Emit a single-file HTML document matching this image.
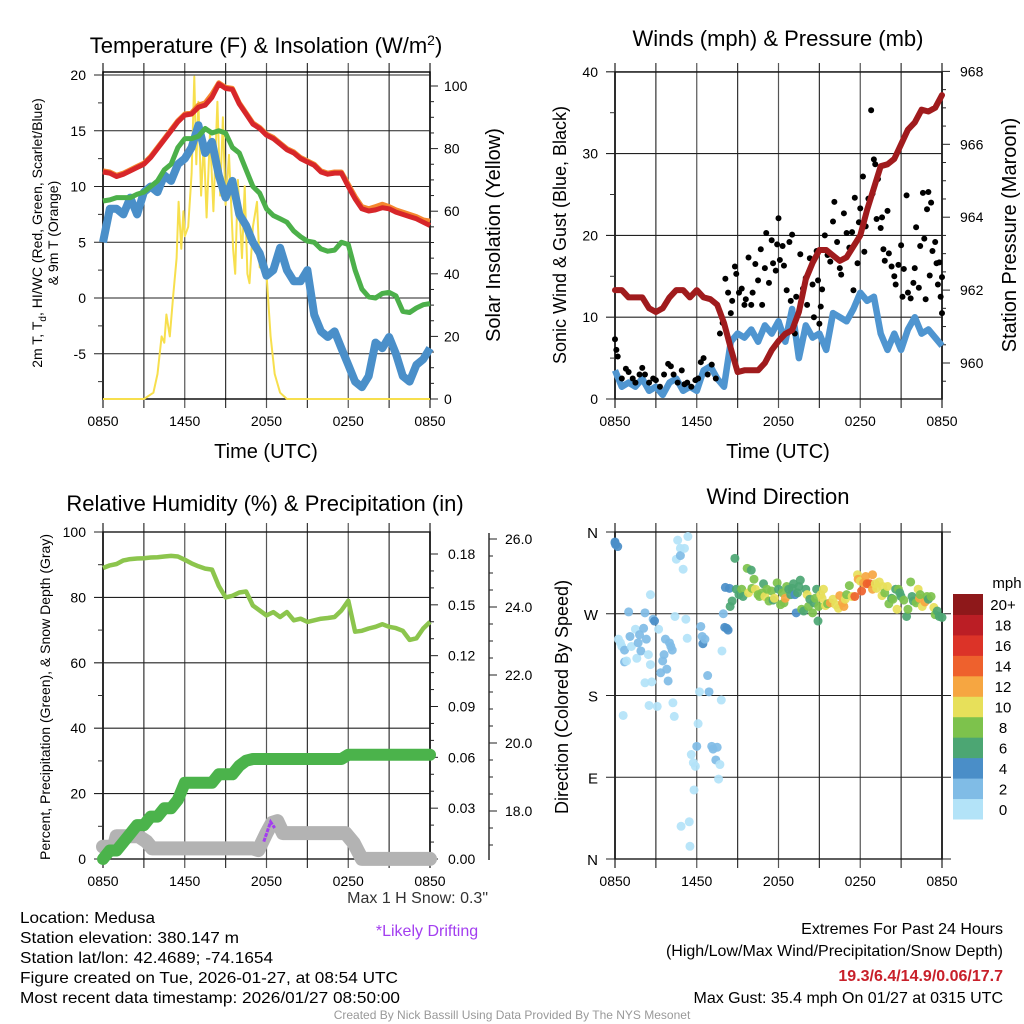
<!DOCTYPE html>
<html><head><meta charset="utf-8"><style>
html,body{margin:0;padding:0;background:#fff;}
svg{display:block;font-family:"Liberation Sans",sans-serif;}
</style></head><body>
<svg id="fig" width="1024" height="1024" viewBox="0 0 1024 1024" xmlns="http://www.w3.org/2000/svg">
<rect width="1024" height="1024" fill="#fff"/>
<g id="p1"></g>
<g id="p2"></g>
<g id="p3"></g>
<g id="p4"></g>
<g id="foot">
<text x="20" y="923" font-size="16" textLength="135" lengthAdjust="spacingAndGlyphs">Location: Medusa</text>
<text x="20" y="943" font-size="16" textLength="219" lengthAdjust="spacingAndGlyphs">Station elevation: 380.147 m</text>
<text x="20" y="963" font-size="16" textLength="253" lengthAdjust="spacingAndGlyphs">Station lat/lon: 42.4689; -74.1654</text>
<text x="20" y="983" font-size="16" textLength="378" lengthAdjust="spacingAndGlyphs">Figure created on Tue, 2026-01-27, at 08:54 UTC</text>
<text x="20" y="1003" font-size="16" textLength="380" lengthAdjust="spacingAndGlyphs">Most recent data timestamp: 2026/01/27 08:50:00</text>
<text x="488" y="903" font-size="16" text-anchor="end" fill="#333">Max 1 H Snow: 0.3"</text>
<text x="427" y="936" font-size="16" text-anchor="middle" fill="#a33ef0">*Likely Drifting</text>
<text x="1003" y="934" font-size="16" text-anchor="end">Extremes For Past 24 Hours</text>
<text x="1003" y="956" font-size="16" text-anchor="end">(High/Low/Max Wind/Precipitation/Snow Depth)</text>
<text x="1003" y="981" font-size="16" font-weight="bold" text-anchor="end" fill="#c8202a">19.3/6.4/14.9/0.06/17.7</text>
<text x="1003" y="1003" font-size="16" text-anchor="end">Max Gust: 35.4 mph On 01/27 at 0315 UTC</text>
<text x="512" y="1019" font-size="12" text-anchor="middle" fill="#999">Created By Nick Bassill Using Data Provided By The NYS Mesonet</text>
</g>
</svg>
<script>
// ---- shared categories ----
const xTickLabels = ["0850","1450","2050","0250","0850"];
const halfHours = [0,0.5,1,1.5,2,2.5,3,3.5,4,4.5,5,5.5,6,6.5,7,7.5,8,8.5,9,9.5,10,10.5,11,11.5,12,12.5,13,13.5,14,14.5,15,15.5,16,16.5,17,17.5,18,18.5,19,19.5,20,20.5,21,21.5,22,22.5,23,23.5,24];
// ---- panel 1 data ----
const tempRed = [11.3,11.2,10.9,11.1,11.4,11.7,12.0,12.6,13.4,14.2,15.0,15.8,16.4,16.5,17.1,17.3,18.0,19.2,18.8,18.7,17.4,16.5,15.6,15.2,14.6,14.3,13.8,13.3,13.0,12.5,12.2,11.9,11.3,11.1,11.2,11.2,10.0,8.9,8.0,7.8,7.9,8.1,8.0,7.7,7.5,7.3,7.1,6.8,6.5];
const temp9m = [11.4,11.3,11.0,11.2,11.5,11.8,12.1,12.7,13.5,14.3,15.1,15.9,16.5,16.6,17.3,17.5,18.3,19.3,18.9,18.8,17.5,16.6,15.7,15.3,14.7,14.4,13.9,13.4,13.1,12.6,12.3,12.0,11.4,11.2,11.3,11.3,10.2,9.1,8.2,8.0,8.2,8.4,8.2,7.9,7.7,7.5,7.3,7.0,6.9];
const tempGreen = [8.7,8.8,9.0,9.0,9.0,9.3,9.5,10.0,10.5,11.5,12.0,13.5,14.3,14.3,14.5,15.2,14.8,15.0,14.8,13.5,13.0,11.5,10.0,9.4,8.0,7.4,7.1,6.8,6.0,5.5,5.1,5.0,4.4,4.2,4.3,5.0,4.8,2.5,0.8,0.1,0.0,0.4,0.5,0.2,-1.2,-1.3,-0.9,-0.6,-0.5];
const dewBlue = [5.0,8.0,8.0,7.5,9.0,7.5,9.5,10.0,9.5,11.0,10.5,12.0,12.5,13.5,15.5,13.0,14.0,11.0,9.0,10.5,7.5,6.5,5.0,4.0,2.0,2.5,4.5,2.5,1.5,1.5,2.5,-1.5,-3.0,-3.5,-3.0,-4.5,-6.0,-7.5,-8.0,-7.0,-4.0,-4.5,-3.5,-5.0,-7.0,-7.5,-6.0,-5.5,-4.5];
const solarHours = [0,3.0,3.7,4.0,4.3,4.5,4.65,4.9,5.15,5.4,5.55,5.75,5.9,6.0,6.25,6.5,6.7,6.85,7.0,7.2,7.4,7.6,7.85,8.1,8.4,8.6,8.8,9.0,9.25,9.55,9.7,9.9,10.2,10.4,10.6,10.75,11.0,11.3,11.5,11.75,12.0,12.3,12.6,13.0,13.5,24];
const solarVals = [0,0,2,8,20,18,27,20,33,45,63,48,60,52,55,72,103,75,95,65,82,58,85,60,95,65,90,62,78,48,40,70,45,68,40,37,55,63,42,45,40,20,8,2,0,0];
const p1LeftTicks = [-5,0,5,10,15,20];
const p1RightTicks = [0,20,40,60,80,100];
// ---- panel 2 data ----
const pressure = [962.0,962.0,961.8,961.8,961.8,961.5,961.4,961.5,961.8,962.0,962.0,961.8,962.0,961.8,961.75,961.6,961.1,960.4,959.75,959.8,959.8,959.8,960.0,960.35,960.6,960.8,960.9,961.4,962.3,962.75,963.1,963.1,962.95,962.8,962.9,963.2,963.5,964.2,964.8,965.4,965.45,965.6,966.0,966.4,966.6,966.95,966.9,967.0,967.35];
const windSpeed = [3.5,1.5,2.0,1.5,2.5,1.0,1.5,0.5,2.0,2.5,1.0,1.5,1.0,3.5,4.0,2.5,1.5,7.0,8.0,7.5,8.5,7.0,9.0,8.0,9.5,7.0,11.0,5.0,9.0,7.5,8.0,6.0,10.5,10.0,9.5,11.0,13.0,12.0,12.5,8.0,6.0,8.0,6.0,8.5,10.0,8.0,8.5,7.5,6.5];
const gustHours = [0,0.1,0.2,0.5,0.8,1,1.3,1.5,1.8,2,2.2,2.5,2.8,3,3.3,3.6,3.9,4.1,4.3,4.6,4.9,5.1,5.3,5.6,5.9,6.1,6.3,6.5,6.8,7.1,7.4,7.7,7.9,8.1,8.3,8.5,8.6,8.8,8.9,9.1,9.3,9.5,9.6,9.8,10,10.1,10.3,10.5,10.7,10.8,11,11.1,11.3,11.5,11.6,11.8,11.9,12,12.1,12.3,12.4,12.6,12.8,12.9,13,13.2,13.3,13.6,13.8,14,14.1,14.3,14.5,14.6,14.8,14.9,15,15.1,15.2,15.4,15.6,15.8,16,16.1,16.3,16.5,16.6,16.8,17,17.2,17.4,17.5,17.6,17.8,17.9,18,18.2,18.3,18.4,18.6,18.8,18.9,19,19.1,19.2,19.3,19.5,19.6,19.7,19.8,20,20.1,20.3,20.5,20.6,20.8,21,21.1,21.2,21.4,21.5,21.7,21.9,22,22.1,22.3,22.4,22.6,22.7,22.8,22.9,23,23.1,23.2,23.3,23.5,23.6,23.7,23.8,23.9,24,24];
const gustVals = [7.3,6,5.2,2.5,3.7,3.3,2.5,2,3,3.8,3,2,2.5,2.3,1.5,3,4.3,4,3,2,3.5,1.8,2,1.5,2.3,2.5,4.5,5,3,4.2,2.5,8,9.3,14.7,13,10.5,12,16.2,15.3,13,13.5,11.5,12.2,17.3,11.5,13,16.5,14.5,18.3,11.5,16,20.3,14.2,19.4,16.6,15.7,18.9,22.1,17,18.7,16.3,13.3,19.2,12,20.1,8,12.5,17.7,13.5,14.8,11.5,17.2,14,10,18.1,14.5,9.2,11.3,13.4,20,17.6,16.8,21.7,24.1,19.2,16,15.2,22.7,20.3,18.5,20.4,13.3,24.6,16.6,21.6,23.3,27.2,18,21.1,24.5,35.3,25.1,29.3,28.7,22,26.9,20.9,22.2,18.3,16.9,23,17.8,16.2,15,14,16.4,18.8,12.5,15.9,24.9,13,12.3,14.2,16,21,13.6,18.7,25.2,19.6,12.2,23.2,25.3,15.1,24,18.1,19.2,16.6,14,16.7,12.5,10.5,14.9];
const p2LeftTicks = [0,10,20,30,40];
const p2RightTicks = [960,962,964,966,968];
// ---- panel 3 data ----
const rhVals = [89,89.8,90.2,91.3,91.7,91.9,92,92.2,92.3,92.5,92.7,92.5,91.5,90.4,89.5,88.8,88.5,83.5,80,80.5,81.5,81.8,77.5,76,74.5,75.5,74,75.5,73,73.5,72.5,73,73.5,73.7,74,76,79,69.5,69.8,70.5,71,71.8,71,70.6,69.8,67,67.5,70.5,72.5];
const precipVals = [0,0.005,0.005,0.01,0.015,0.02,0.02,0.025,0.025,0.03,0.03,0.035,0.045,0.045,0.045,0.045,0.045,0.05,0.05,0.05,0.055,0.058,0.059,0.059,0.059,0.059,0.059,0.059,0.059,0.059,0.059,0.059,0.059,0.059,0.059,0.059,0.0615,0.0615,0.0615,0.0615,0.0615,0.0615,0.0615,0.0615,0.0615,0.0615,0.0615,0.0615,0.0615];
const snowHours = [0,0.8,1.0,2.6,3.2,3.6,11.0,11.4,12.0,12.4,12.8,13.2,17.8,18.4,19.0,24];
const snowVals = [16.95,16.95,17.26,17.26,17.1,16.9,16.9,16.85,17.35,17.65,17.7,17.35,17.35,17.06,16.59,16.59];
const driftHours = [11.8,12.3,12.6];
const driftVals = [17.1,17.68,17.5];
const p3LeftTicks = [0,20,40,60,80,100];
const p3PrecipTicks = ["0.00","0.03","0.06","0.09","0.12","0.15","0.18"];
const p3SnowTicks = ["18.0","20.0","22.0","24.0","26.0"];
// ---- panel 4 data ----
const dirHours = [0,0.05,0.2,0,0.25,0.4,0.5,0.7,0.7,0.85,1.1,1.0,1.2,1.5,1.6,1.7,1.8,1.9,2.1,2.2,2.3,2.45,2.6,2.2,2.7,2.5,3.1,2.8,2.9,3.2,3.35,3.5,3.6,3.7,3.8,3.9,4.0,4.1,4.2,4.25,4.35,2.6,0.6,4.4,4.5,4.6,4.8,4.8,5.0,5.1,5.35,5.2,5.3,6.1,6.0,5.6,5.75,5.9,5.8,4.85,5.45,5.5,6.3,6.4,6.45,6.6,6.2,6.8,6.9,7.1,7.2,7.4,7.5,7.6,7.7,7.8,7.85,7.95,8.05,8.2,8.3,8.1,8.4,
8.45,8.6,8.8,8.9,9.1,9.3,9.4,9.7,9.8,10.0,10.05,10.2,10.3,10.5,10.6,10.8,10.9,11.0,11.15,11.3,11.5,11.6,11.7,11.9,12.0,12.15,12.3,12.4,12.5,12.6,12.75,12.9,13.0,13.1,13.2,13.3,13.4,13.5,13.6,13.7,13.85,14.0,14.1,14.2,14.3,14.5,14.6,14.7,14.8,14.9,14.95,15.1,15.2,15.3,15.45,15.6,15.8,16.0,16.2,16.4,16.5,16.7,16.8,16.9,17.0,17.2,17.4,17.6,17.8,17.85,18.0,18.1,18.25,18.4,18.5,18.7,18.9,18.9,19.1,19.2,19.4,19.6,19.65,19.8,20.0,20.1,20.3,20.4,20.6,20.7,20.8,20.9,21.0,21.2,21.4,21.5,21.7,21.8,21.9,22.1,22.25,22.35,22.4,22.55,22.75,22.9,23.0,23.2,23.4,23.5,23.65,23.8,24.0];
const dirDeg = [348,346,344,349,242,238,234,230,217,218,245,272,234,253,221,238,247,229,254,271,242,225,214,194,195,169,168,264,262,253,205,218,225,242,209,196,238,234,230,172,157,291,158,267,330,351,342,334,319,342,355,264,243,149,124,115,106,102,76,36,41,14,256,245,237,242,184,202,184,124,121,109,123,88,104,175,229,270,255,254,252,299,298,
278,284,331,297,291,297,289,320,293,318,298,308,297,291,289,293,303,289,297,284,295,285,287,304,297,280,293,282,287,300,297,291,298,303,291,271,293,300,307,275,273,297,291,278,286,271,282,287,297,262,278,291,287,297,279,281,282,286,280,276,290,282,278,286,291,301,289,289,313,308,306,295,304,311,303,303,313,297,303,298,305,290,300,293,300,281,287,286,297,275,297,293,289,285,267,275,305,289,284,282,297,287,291,278,283,289,286,289,277,269,273,267,266];
const dirSpeed = [4,4,4,4,1,1,1,3,3,1,3,3,1,1,1,3,3,3,3,3,3,1,1,1,1,1,1,3,4,1,3,3,3,3,3,3,3,3,3,1,1,1,1,1,1,1,1,3,1,1,1,1,1,1,3,1,1,1,1,1,1,1,3,3,4,3,1,3,3,3,3,3,3,1,1,1,1,3,4,4,4,4,4,
6,7,6,7,7,8,6,8,10,6,8,8,10,8,9,8,6,10,8,8,8,7,10,8,7,8,8,8,13,8,7,6,6,6,5,4,6,6,7,8,7,7,10,8,6,8,7,8,6,6,8,10,10,10,10,9,12,10,10,10,12,12,12,10,9,8,11,15,10,12,11,15,12,13,15,15,13,12,11,10,11,10,10,9,10,8,7,8,7,10,8,7,6,8,6,8,8,7,7,8,10,12,8,10,12,8,6,8,10,8,6,7,6];
const dirTickLabels = ["N","E","S","W","N"];
const speedBinLabels = ["0","2","4","6","8","10","12","14","16","18","20+"];
const speedColors = ["#b3e3f8","#80bce6","#4a8ec8","#4ca673","#7dc24c","#e7e05a","#f6a641","#ee612d","#dc3328","#bb1e25","#8e181a"];

const NS="http://www.w3.org/2000/svg";
function mk(parent, tag, attrs){ const e=document.createElementNS(NS,tag); for(const k in attrs) e.setAttribute(k,attrs[k]); parent.appendChild(e); return e; }
function txt(parent, x, y, s, size, anchor, extra){ const t=mk(parent,'text',Object.assign({x:x,y:y,'font-size':size,'text-anchor':anchor||'middle'},extra||{})); t.textContent=s; return t; }

const X0=103, X1=430;
function makeX(x0,x1){ return h => x0 + (x1-x0)*h/24; }
function pathFrom(xs, ys, fx, fy){ let d=''; for(let i=0;i<xs.length;i++){ d+=(i?'L':'M')+fx(xs[i]).toFixed(1)+','+fy(ys[i]).toFixed(1);} return d; }

function frame(g, x0, x1, yt, yb, fx){
  for(let h=0;h<=24;h+=3){
    const x=fx(h);
    const l=mk(g,'line',{x1:x,y1:yt-9,x2:x,y2:yb+9,stroke:(h%6===3? '#333':'#555'),'stroke-width':(h===0||h===24)?1.6:1.2});
    
    
  }
  xTickLabels.forEach((s,i)=>{
    const t=txt(g, fx(i*6), yb+27, s, 14);
    
    
  });
  const r=mk(g,'rect',{x:x0,y:yt,width:x1-x0,height:yb-yt,fill:'none',stroke:'#000','stroke-width':1.4});
  
  
}
function hgrid(g, x0,x1,y,label,lx){
  const l=mk(g,'line',{x1:x0-9,y1:y,x2:x1,y2:y,stroke:'#222','stroke-width':1.1});
  
  
  if(label!==null){ const t=txt(g, lx, y+5, label, 14, 'end');
    
     }
}
function rtick(g,x,y,len){ mk(g,'line',{x1:x,y1:y,x2:x+len,y2:y,stroke:'#222','stroke-width':1}); }

// ================= PANEL 1 =================
(function(){
  const g=document.getElementById('p1');
  const fx=makeX(X0,X1);
  const fy=v=>298 - v*11.15;
  const fs=v=>399 - v*3.13;
  const ttl=txt(g,266,53,'',22);
  ttl.innerHTML='Temperature (F) &amp; Insolation (W/m<tspan dy="-8" font-size="14">2</tspan><tspan dy="8">)</tspan>';
  
  
  frame(g,X0,X1,72,399,fx);
  mk(g,'line',{x1:X0,y1:75,x2:X1,y2:75,stroke:'#000','stroke-width':1});
  p1LeftTicks.forEach(v=>hgrid(g,X0,X1,fy(v),String(v),86));
  for(let v=-7.5;v<=20;v+=2.5){ if(v%5!==0) mk(g,'line',{x1:X0-5,y1:fy(v),x2:X0,y2:fy(v),stroke:'#333'}); }
  p1RightTicks.forEach(v=>{ rtick(g,X1,fs(v),8); const t=txt(g,444,fs(v)+5,String(v),14,'start');
    
     });
  for(let v=5;v<=100;v+=5){ if(v%20) rtick(g,X1,fs(v),4); }
  const yl=txt(g,0,0,'',14,'middle',{transform:'translate(42,233) rotate(-90)'});
  yl.innerHTML='2m T, T<tspan dy="4" font-size="10">d</tspan><tspan dy="-4">, HI/WC (Red, Green, Scarlet/Blue)</tspan>';
  
  
  const yl2=txt(g,0,0,'& 9m T (Orange)',14,'middle',{transform:'translate(58,233) rotate(-90)'});
  
  
  const yr=txt(g,0,0,'Solar Insolation (Yellow)',20,'middle',{transform:'translate(500,235) rotate(-90)'});
  
  
  const xt=txt(g,266,458,'Time (UTC)',20);
  
  
  const s=mk(g,'path',{d:pathFrom(solarHours,solarVals,fx,fs),fill:'none',stroke:'#f7df4d','stroke-width':2,'stroke-linejoin':'round'});
  
  
  const b=mk(g,'path',{d:pathFrom(halfHours,dewBlue,fx,fy),fill:'none',stroke:'#4a8fc9','stroke-width':8,'stroke-linejoin':'round'});
  
  
  const gr=mk(g,'path',{d:pathFrom(halfHours,tempGreen,fx,fy),fill:'none',stroke:'#4cb04a','stroke-width':5,'stroke-linejoin':'round'});
  
  
  const o=mk(g,'path',{d:pathFrom(halfHours,temp9m,fx,fy),fill:'none',stroke:'#f5872f','stroke-width':5,'stroke-linejoin':'round'});
  
  
  const r=mk(g,'path',{d:pathFrom(halfHours,tempRed,fx,fy),fill:'none',stroke:'#d7262a','stroke-width':5,'stroke-linejoin':'round'});
  
  
})();

// ================= PANEL 2 =================
(function(){
  const g=document.getElementById('p2');
  const x0=615,x1=942;
  const fx=makeX(x0,x1);
  const fy=v=>399 - v*8.18;
  const fp=v=>363 - (v-960)*36.45;
  const ttl=txt(g,778,46,'Winds (mph) & Pressure (mb)',22);
  
  
  frame(g,x0,x1,72,399,fx);
  p2LeftTicks.forEach(v=>hgrid(g,x0,x1,fy(v),String(v),598));
  for(let v=5;v<40;v+=10) mk(g,'line',{x1:x0-5,y1:fy(v),x2:x0,y2:fy(v),stroke:'#333'});
  p2RightTicks.forEach(v=>{ rtick(g,x1,fp(v),8); const t=txt(g,960,fp(v)+5,String(v),14,'start');
    
     });
  for(let v=959.5;v<968;v+=0.5){ if(v%2) rtick(g,x1,fp(v),4); }
  const yl=txt(g,0,0,'Sonic Wind & Gust (Blue, Black)',18,'middle',{transform:'translate(566,235) rotate(-90)'});
  
  
  const yr=txt(g,0,0,'Station Pressure (Maroon)',20,'middle',{transform:'translate(1016,235) rotate(-90)'});
  
  
  const xt=txt(g,778,458,'Time (UTC)',20);
  
  
  const w=mk(g,'path',{d:pathFrom(halfHours,windSpeed,fx,fy),fill:'none',stroke:'#4f95d0','stroke-width':6.5,'stroke-linejoin':'round'});
  
  
  gustHours.forEach((h,i)=>{
    const c=mk(g,'circle',{cx:fx(h),cy:fy(gustVals[i]),r:3,fill:'#000'});
    
    
  });
  const p=mk(g,'path',{d:pathFrom(halfHours,pressure,fx,fp),fill:'none',stroke:'#a01b1d','stroke-width':6,'stroke-linejoin':'round','stroke-linecap':'round'});
  
  
})();

// ================= PANEL 3 =================
(function(){
  const g=document.getElementById('p3');
  const fx=makeX(X0,X1);
  const fy=v=>859 - v*3.27;
  const fpr=v=>859 - v*(305/0.18);
  const fsn=v=>811 - (v-18)*34;
  const ttl=txt(g,265,511,'Relative Humidity (%) & Precipitation (in)',22);
  
  
  frame(g,X0,X1,532,859,fx);
  p3LeftTicks.forEach(v=>hgrid(g,X0,X1,fy(v),String(v),86));
  for(let v=10;v<100;v+=20) mk(g,'line',{x1:X0-5,y1:fy(v),x2:X0,y2:fy(v),stroke:'#333'});
  p3PrecipTicks.forEach(s=>{ const v=parseFloat(s); rtick(g,X1,fpr(v),8); const t=txt(g,448,fpr(v)+5,s,14,'start');
    
     });
  for(let k=1;k<19;k++){ if(k%3) rtick(g,X1,fpr(k*0.01),4); }
  mk(g,'line',{x1:489,y1:533,x2:489,y2:860,stroke:'#222','stroke-width':1.4});
  p3SnowTicks.forEach(s=>{ const v=parseFloat(s); mk(g,'line',{x1:489,y1:fsn(v),x2:497,y2:fsn(v),stroke:'#222'}); const t=txt(g,505,fsn(v)+5,s,14,'start');
    
     });
  for(let v=17;v<=26;v+=0.5){ if(v%2) mk(g,'line',{x1:489,y1:fsn(v),x2:493,y2:fsn(v),stroke:'#222'}); }
  const yl=txt(g,0,0,'Percent, Precipitation (Green), & Snow Depth (Gray)',14,'middle',{transform:'translate(50,697) rotate(-90)'});
  
  
  const sn=mk(g,'path',{d:pathFrom(snowHours,snowVals,fx,fsn),fill:'none',stroke:'#b3b3b3','stroke-width':14,'stroke-linejoin':'round','stroke-linecap':'round'});
  
  
  const pr=mk(g,'path',{d:pathFrom(halfHours,precipVals,fx,fpr),fill:'none',stroke:'#4bb34b','stroke-width':12,'stroke-linejoin':'round','stroke-linecap':'round'});
  
  
  const dr=mk(g,'path',{d:pathFrom(driftHours,driftVals,fx,fsn),fill:'none',stroke:'#a33ef0','stroke-width':3,'stroke-dasharray':'4 1'});
  
  
  const rh=mk(g,'path',{d:pathFrom(halfHours,rhVals,fx,fy),fill:'none',stroke:'#8cc54d','stroke-width':4.5,'stroke-linejoin':'round'});
  
  
})();

// ================= PANEL 4 =================
(function(){
  const g=document.getElementById('p4');
  const x0=615,x1=942;
  const fx=makeX(x0,x1);
  const fy=d=>859 - d*327/360;
  const ttl=txt(g,778,504,'Wind Direction',22);
  
  
  frame(g,x0,x1,532,859,fx);
  dirTickLabels.forEach((s,i)=>{ const y=fy(i*90);
    mk(g,'line',{x1:x0-9,y1:y,x2:x1+9,y2:y,stroke:'#222','stroke-width':1.1});
    const t=txt(g,598,y+6,s,15,'end');
    
     });
  const yl=txt(g,0,0,'Direction (Colored By Speed)',18,'middle',{transform:'translate(568,697) rotate(-90)'});
  
  
  dirHours.forEach((h,i)=>{
    const bin=Math.min(10,Math.floor(dirSpeed[i]/2));
    const c=mk(g,'circle',{cx:fx(h),cy:fy(dirDeg[i]),r:4.5,fill:speedColors[bin],'fill-opacity':0.92});
    
    
  });
  const cbTop=594, cbH=225/11;
  const mph=txt(g,1007,588,'mph',15);
  
  
  speedBinLabels.forEach((s,i)=>{
    const y=cbTop+(10-i)*cbH;
    const r=mk(g,'rect',{x:953,y:y,width:30,height:cbH+0.5,fill:speedColors[i]});
    
    
    const t=txt(g,1003,y+cbH/2+6,s,15);
    
    
  });
})();
</script>
</body></html>
